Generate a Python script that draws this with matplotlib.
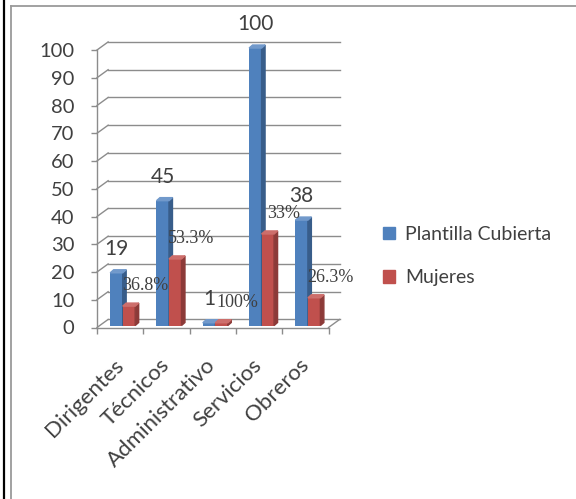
import numpy as np
import matplotlib.pyplot as plt
from matplotlib.patches import Patch, Polygon
from matplotlib.lines import Line2D

categorias = ['Dirigentes', 'Técnicos', 'Administrativo', 'Servicios', 'Obreros']
plantilla = [19, 45, 1, 100, 38]
mujeres = [7, 24, 1, 33, 10]
pct_mujeres = ['36.8%', '53.3%', '100%', '33%', '26.3%']
yticks = list(range(0, 101, 10))

AZUL = ['#4F81BD', '#385D8A', '#7199CB']   # frente, lado, tapa
ROJO = ['#C0504D', '#8C3A38', '#CD6E6B']
GRIS = '#8C8C8C'
TXT = '#404040'

# profundidad de la pared del fondo y de las columnas (unidades de datos)
WALL_DX, WALL_DY = 0.24, 2.9
BAR_DX, BAR_DY = 0.075, 1.1
BASE = 0.7
W = 0.27

fig = plt.figure(figsize=(5.76, 4.99), dpi=100)
ax = fig.add_axes([97 / 576, 171.5 / 499, 231.5 / 576, 277.5 / 499])
ax.set_xlim(-0.5, 4.5)
ax.set_ylim(0, 100)


def columna(x, h, cols):
    """ columna 3D: frente con ax.bar + lado y tapa """
    ax.bar(x, h, W, bottom=BASE, align='edge', color=cols[0], zorder=3, clip_on=False)
    top = BASE + h
    lado = Polygon([(x + W, BASE), (x + W + BAR_DX, BASE + BAR_DY),
                    (x + W + BAR_DX, top + BAR_DY), (x + W, top)],
                   closed=True, color=cols[1], zorder=3, clip_on=False)
    tapa = Polygon([(x, top), (x + BAR_DX, top + BAR_DY),
                    (x + W + BAR_DX, top + BAR_DY), (x + W, top)],
                   closed=True, color=cols[2], zorder=3, clip_on=False)
    ax.add_patch(lado)
    ax.add_patch(tapa)


# pared del fondo con lineas de division
for v in yticks:
    ax.plot([-0.5, -0.5 + WALL_DX], [v, v + WALL_DY], color=GRIS, lw=1, zorder=1, clip_on=False)
    ax.plot([-0.5 + WALL_DX, 4.5 + WALL_DX], [v + WALL_DY] * 2, color=GRIS, lw=1, zorder=1, clip_on=False)
# borde derecho del piso
ax.plot([4.5, 4.5 + WALL_DX], [0, WALL_DY], color=GRIS, lw=1, zorder=1, clip_on=False)

x = np.arange(len(categorias))
for i in range(len(categorias)):
    xb = x[i] - 0.215
    xr = xb + W
    columna(xb, plantilla[i], AZUL)
    columna(xr, mujeres[i], ROJO)
    ax.annotate(str(plantilla[i]), (xb + W / 2, BASE + plantilla[i]), xytext=(0, 17),
                textcoords='offset points', ha='center', va='center',
                fontsize=15, family='Lato', color=TXT, zorder=5, annotation_clip=False)
    ax.annotate(pct_mujeres[i], (xr + W / 2, BASE + mujeres[i]), xytext=(11.5, 14.5),
                textcoords='offset points', ha='center', va='center',
                fontsize=13, family='Liberation Serif', color=TXT, zorder=5, annotation_clip=False)

for s in ['top', 'right']:
    ax.spines[s].set_visible(False)
for s in ['left', 'bottom']:
    ax.spines[s].set_color(GRIS)
    ax.spines[s].set_linewidth(1)
ax.patch.set_visible(False)

ax.set_yticks(yticks)
ax.tick_params(axis='y', direction='out', length=4.3, width=1, color=GRIS, pad=12,
               labelsize=14.5, labelcolor=TXT)
ax.set_xticks(x)
ax.set_xticklabels(categorias)
ax.set_xticks(np.arange(-0.5, 5, 1), minor=True)
ax.tick_params(axis='x', which='major', length=0, pad=25, labelsize=16, labelcolor=TXT)
ax.tick_params(axis='x', which='minor', direction='out', length=4.3, width=1, color=GRIS)
for lab in ax.get_xticklabels() + ax.get_yticklabels():
    lab.set_family('Lato')
for lab in ax.get_xticklabels():
    lab.set_rotation(45)
    lab.set_ha('right')
    lab.set_va('center')
    lab.set_rotation_mode('anchor')

handles = [Patch(color=AZUL[0], label='Plantilla Cubierta'), Patch(color=ROJO[0], label='Mujeres')]
fig.legend(handles=handles, loc='upper left', bbox_to_anchor=(383 / 576, (499 - 226) / 499),
           frameon=False, borderpad=0, borderaxespad=0, handlelength=0.62, handleheight=0.62,
           handletextpad=0.5, labelspacing=1.35, prop={'family': 'Lato', 'size': 14},
           labelcolor=TXT)

# marco de la imagen
fig.add_artist(Line2D([3.5 / 576] * 2, [0, 1], color='black', lw=1.6))
fig.add_artist(Line2D([10.5 / 576] * 2, [0, (499 - 6) / 499], color='#9A9A9A', lw=1.3))
fig.add_artist(Line2D([10.5 / 576, 1], [(499 - 6) / 499] * 2, color='#9A9A9A', lw=1.3))

fig.savefig('out.png', dpi=100)
